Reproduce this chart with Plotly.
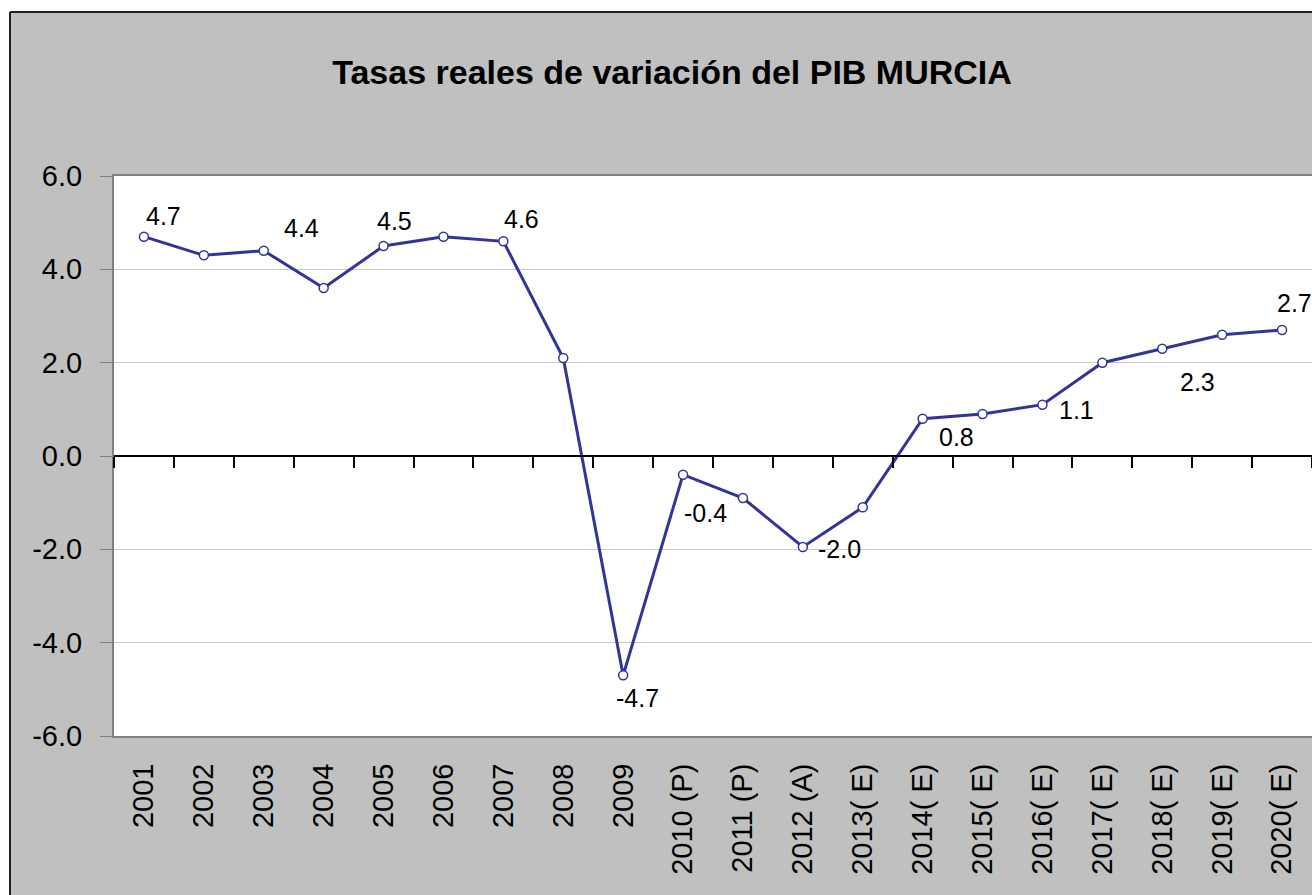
import plotly.graph_objects as go

categories = ["2001", "2002", "2003", "2004", "2005", "2006", "2007", "2008", "2009",
              "2010 (P)", "2011 (P)", "2012 (A)", "2013( E)", "2014( E)", "2015( E)",
              "2016( E)", "2017( E)", "2018( E)", "2019( E)", "2020( E)"]
values = [4.7, 4.3, 4.4, 3.6, 4.5, 4.7, 4.6, 2.1, -4.7, -0.4, -0.9, -1.95, -1.1,
          0.8, 0.9, 1.1, 2.0, 2.3, 2.6, 2.7]

# labelled points: index, text, pixel offsets (as in original layout)
label_idx = [0, 2, 4, 6, 8, 9, 11, 13, 15, 17, 19]
label_txt = ["4.7", "4.4", "4.5", "4.6", "-4.7", "-0.4", "-2.0", "0.8", "1.1", "2.3", "2.7"]
label_dx = [20, 38, 11, 18, 14, 22, 37, 34, 34, 35, 12]
label_dy = [21, 23, 25, 22, -23, -38, -2, -18, -5, -33, 27]

y_ticks = [-6, -4, -2, 0, 2, 4, 6]
y_ticktext = ["-6.0", "-4.0", "-2.0", "0.0", "2.0", "4.0", "6.0"]

FONT = "Liberation Sans, Arial, sans-serif"
LINE = "#333399"

idx = list(range(len(categories)))

fig = go.Figure()
# invisible helper trace so the zero-crossing axis (x2) is drawn
fig.add_trace(go.Scatter(
    x=idx, y=values, xaxis="x2", yaxis="y", mode="none",
    hoverinfo="skip", showlegend=False,
))
fig.add_trace(go.Scatter(
    x=idx, y=values, mode="lines+markers",
    line=dict(color=LINE, width=3),
    marker=dict(symbol="circle", size=9, color="white", line=dict(color=LINE, width=1.5)),
    text=categories, hovertemplate="%{text}: %{y}<extra></extra>", showlegend=False,
))

for i, t, dx, dy in zip(label_idx, label_txt, label_dx, label_dy):
    fig.add_annotation(x=i, y=values[i], xref="x", yref="y", text=t, showarrow=False,
                       xshift=dx, yshift=dy, font=dict(family=FONT, size=25, color="black"))

W, H = 1312, 895
L, R, T, B = 114, 0, 176, 159
pw, ph = W - L - R, H - T - B

def px_x(p):
    return (p - L) / pw

def px_y(p):
    return (H - B - p) / ph

fig.update_layout(
    width=W, height=H,
    margin=dict(l=L, r=R, t=T, b=B, pad=0, autoexpand=False),
    paper_bgcolor="#c0c0c0",
    plot_bgcolor="white",
    title=dict(text="<b>Tasas reales de variación del PIB MURCIA</b>",
               x=(672 / W), xanchor="center", y=1 - 72 / H, yanchor="middle",
               font=dict(family=FONT, size=34, color="black")),
    xaxis=dict(
        range=[-0.5, len(categories) - 0.5],
        tickvals=idx, ticktext=categories,
        showgrid=False, zeroline=False,
        showline=True, linecolor="#808080", linewidth=2, mirror=True,
        ticks="outside", ticklen=14, tickcolor="rgba(0,0,0,0)",
        tickangle=-90, tickfont=dict(family=FONT, size=29, color="black"),
    ),
    xaxis2=dict(
        overlaying="x", anchor="free", position=0.5, side="bottom",
        range=[-0.5, len(categories) - 0.5], showgrid=False, zeroline=False,
        showline=True, linecolor="black", linewidth=1.5,
        tickvals=[i - 0.5 for i in range(len(categories) + 1)],
        ticks="outside", ticklen=11, tickcolor="black", tickwidth=1.5,
        showticklabels=False,
    ),
    yaxis=dict(
        range=[-6, 6], tickvals=y_ticks, ticktext=y_ticktext,
        showgrid=True, gridcolor="#c8c8c8", gridwidth=1, zeroline=False,
        showline=True, linecolor="#808080", linewidth=2,
        ticks="outside", ticklen=12, tickcolor="#808080",
        ticklabelstandoff=12,
        tickfont=dict(family=FONT, size=29, color="black"),
    ),
    shapes=[
        dict(type="rect", xref="paper", yref="paper", x0=px_x(-5), x1=px_x(W + 5),
             y0=px_y(12), y1=px_y(-5), fillcolor="white", line=dict(width=0), layer="above"),
        dict(type="rect", xref="paper", yref="paper", x0=px_x(-5), x1=px_x(10),
             y0=px_y(H + 5), y1=px_y(-5), fillcolor="white", line=dict(width=0), layer="above"),
        dict(type="line", xref="paper", yref="paper", x0=px_x(10), x1=px_x(W + 5),
             y0=px_y(12), y1=px_y(12), line=dict(color="#202020", width=2), layer="above"),
        dict(type="line", xref="paper", yref="paper", x0=px_x(10), x1=px_x(10),
             y0=px_y(12), y1=px_y(H + 5), line=dict(color="#202020", width=2), layer="above"),
    ],
)

fig.write_html("out.html", config={"displayModeBar": False},
               post_script="document.body.style.margin='0';document.body.style.overflow='hidden';")
